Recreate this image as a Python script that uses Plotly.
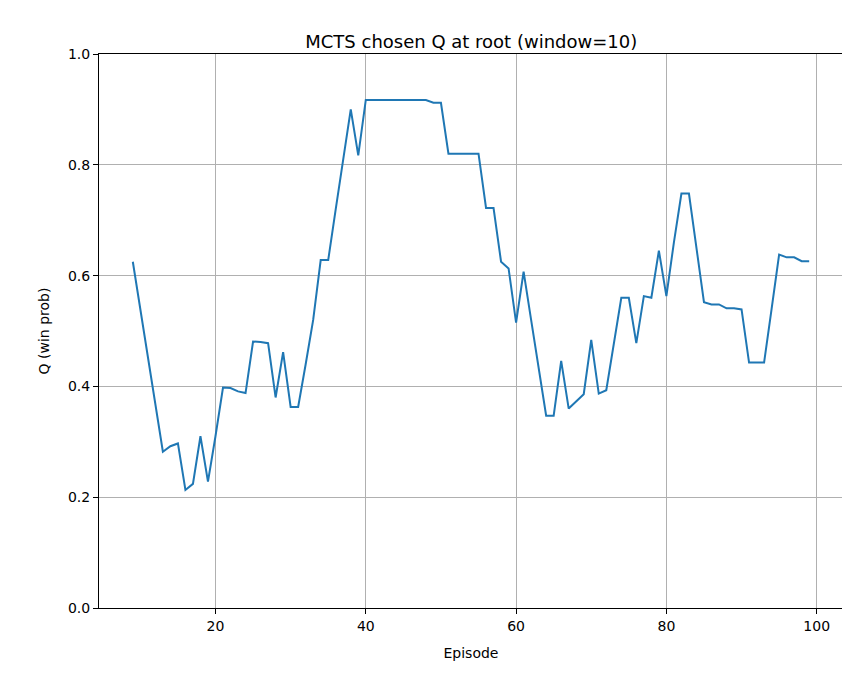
import plotly.graph_objects as go

episodes = list(range(9, 100))
q_values = [
    0.625, 0.539, 0.453, 0.367, 0.282, 0.292, 0.297, 0.213, 0.224, 0.31,
    0.228, 0.31, 0.398, 0.397, 0.391, 0.388, 0.481, 0.48, 0.478, 0.38,
    0.462, 0.363, 0.363, 0.44, 0.52, 0.628, 0.628, 0.72, 0.81, 0.9,
    0.817, 0.917, 0.917, 0.917, 0.917, 0.917, 0.917, 0.917, 0.917, 0.917,
    0.912, 0.912, 0.82, 0.82, 0.82, 0.82, 0.82, 0.722, 0.722, 0.625,
    0.613, 0.515, 0.607, 0.52, 0.43, 0.347, 0.347, 0.446, 0.36, 0.373,
    0.386, 0.484, 0.387, 0.393, 0.48, 0.56, 0.56, 0.478, 0.563, 0.56,
    0.645, 0.563, 0.66, 0.748, 0.748, 0.65, 0.552, 0.548, 0.548, 0.541,
    0.541, 0.539, 0.443, 0.443, 0.443, 0.54, 0.638, 0.633, 0.633, 0.626,
    0.626,
]

fig = go.Figure(go.Scatter(x=episodes, y=q_values, mode="lines",
                           line=dict(color="#1f77b4", width=2)))

axis_style = dict(showline=True, linecolor="black", mirror=True, ticks="outside",
                  ticklen=5, tickcolor="black", showgrid=True, gridcolor="#b0b0b0",
                  gridwidth=1, zeroline=False, tickfont=dict(size=14),
                  automargin=False)

fig.update_layout(
    width=850, height=678,
    margin=dict(l=91, r=15, t=46, b=78),
    plot_bgcolor="white", paper_bgcolor="white",
    font=dict(family="DejaVu Sans", color="black"),
    title=dict(text="MCTS chosen Q at root (window=10)", x=0.545, xanchor="center",
               y=0.96, font=dict(size=18)),
    showlegend=False,
    xaxis=dict(range=[4.5, 103.5], tickvals=[20, 40, 60, 80, 100],
               title=dict(text="Episode", font=dict(size=14)), **axis_style),
    yaxis=dict(range=[0, 1], tickvals=[0, 0.2, 0.4, 0.6, 0.8, 1.0],
               tickformat=".1f", title=dict(text="Q (win prob)", font=dict(size=14)),
               **axis_style),
)

fig.write_html("out.html")
